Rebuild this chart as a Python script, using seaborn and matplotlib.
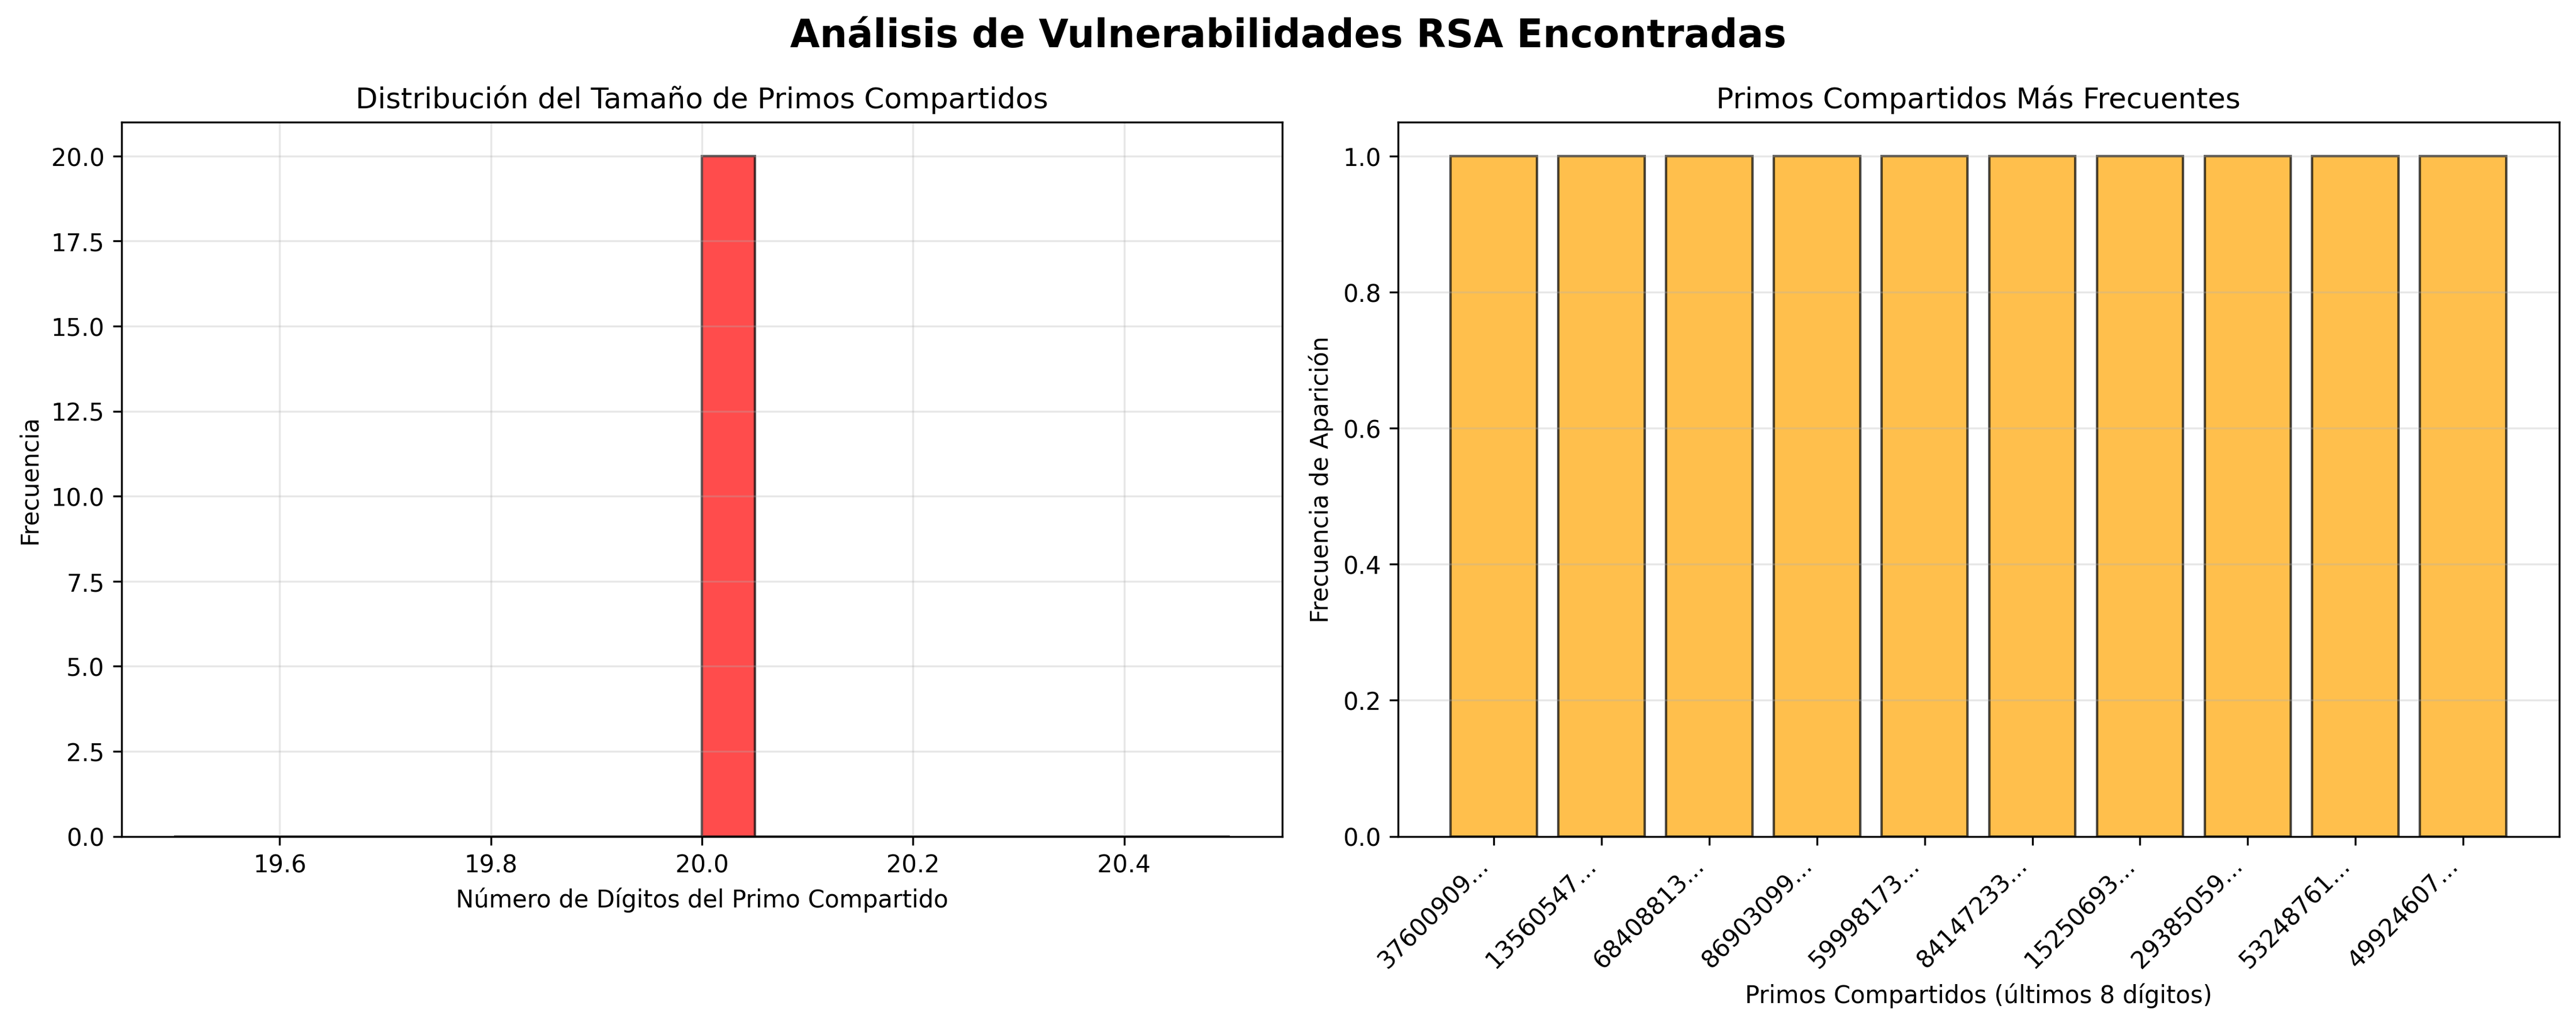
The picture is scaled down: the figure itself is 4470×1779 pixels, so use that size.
import matplotlib
matplotlib.use("Agg")
import matplotlib.pyplot as plt
import seaborn as sns
import pandas as pd

# ── Datos ─────────────────────────────────────────────────────────────────────

# número de dígitos de cada primo compartido (20 primos, todos de 20 dígitos)
digit_counts = [20, 20, 20, 20, 20, 20, 20, 20, 20, 20,
                20, 20, 20, 20, 20, 20, 20, 20, 20, 20]

prime_labels = ["37600909...", "13560547...", "68408813...", "86903099...",
                "59998173...", "84147233...", "15250693...", "29385059...",
                "53248761...", "49924607..."]
prime_freq = [1, 1, 1, 1, 1, 1, 1, 1, 1, 1]

# ── Figura ────────────────────────────────────────────────────────────────────

fig, (ax1, ax2) = plt.subplots(1, 2, figsize=(15, 6))
fig.suptitle("Análisis de Vulnerabilidades RSA Encontradas",
             fontsize=16, fontweight="bold")

# Histograma de tamaños
sns.histplot(x=digit_counts, bins=20, color="red",
             edgecolor="black", linewidth=1.0, ax=ax1)
for p in ax1.patches:
    p.set_alpha(0.7)
ax1.set_title("Distribución del Tamaño de Primos Compartidos")
ax1.set_xlabel("Número de Dígitos del Primo Compartido")
ax1.set_ylabel("Frecuencia")
ax1.grid(True, alpha=0.3)
ax1.set_axisbelow("line")

# Primos más frecuentes
df = pd.DataFrame({"primo": prime_labels, "freq": prime_freq})
sns.barplot(data=df, x="primo", y="freq", color="orange",
            edgecolor="black", linewidth=1.0, saturation=1, ax=ax2)
for p in ax2.patches:
    p.set_alpha(0.7)
# márgenes como en un ax.bar normal (5 % a cada lado)
n = len(prime_labels)
pad = 0.05 * (n - 1 + 0.8)
ax2.set_xlim(-0.4 - pad, n - 1 + 0.4 + pad)
ax2.set_title("Primos Compartidos Más Frecuentes")
ax2.set_xlabel("Primos Compartidos (últimos 8 dígitos)")
ax2.set_ylabel("Frecuencia de Aparición")
plt.setp(ax2.get_xticklabels(), rotation=45, ha="right")
ax2.grid(True, axis="y", alpha=0.3)
ax2.set_axisbelow("line")

plt.tight_layout()
plt.savefig("out.png", dpi=300, bbox_inches="tight")
